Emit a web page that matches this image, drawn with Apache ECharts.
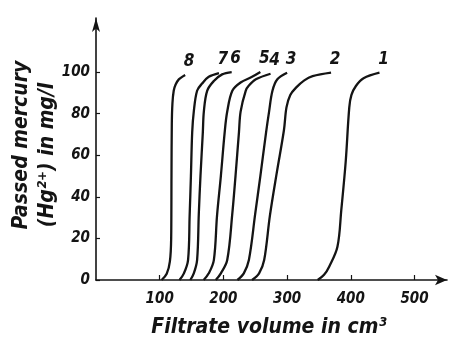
<!DOCTYPE html>
<html><head><meta charset="utf-8">
<script src="https://cdn.jsdelivr.net/npm/echarts@6/dist/echarts.min.js"></script>
<style>html,body{margin:0;padding:0;background:#fff}#c{width:453px;height:341px}</style>
</head><body><div id="c"></div>
<script>
const curveNames = ['1','2','3','4','5','6','7','8'];
const curve1 = [[348,0],[358,2.5],[366,6.4],[379,16],[385,33.5],[392,57],[397.6,83],[401,89],[408,93.3],[420,97],[445,99.7]];
const curve2 = [[245,0],[256,3.2],[264,9.6],[273,31],[284,52],[295,72],[299,83],[305,89],[314,92.5],[327,96],[340,98],[369,99.7]];
const curve3 = [[222,0],[232,3.2],[240,9.6],[250,32],[258,50],[267,71],[271.7,81],[277,91],[284.7,96.5],[300,99.7]];
const curve4 = [[188,0],[196,3.2],[206,9.6],[214,32],[219,50],[224.4,71],[227,81],[235,91],[240,93.5],[251,96.5],[274,99.2]];
const curve5 = [[169,0],[177,3.2],[185,9.6],[190,31],[196,50],[202,71],[206,81],[214,91],[227,95],[245,97.7],[258,100]];
const curve6 = [[148,0],[153.5,3.2],[158.7,9.6],[161.4,32],[164,50],[167.7,71],[169.3,81],[174.5,91],[185,95.7],[198,98.9],[213,100]];
const curve7 = [[131,0],[138,3.2],[144.5,9.6],[147,31],[149,50],[151,71],[153.5,81],[158.7,91],[166.6,94.5],[177,97.7],[193,99.5]];
const curve8 = [[103,0],[111,3],[116,9],[118,20],[118.5,50],[119,75],[120,85],[122,91],[125,94],[130,96.5],[140,98.6]];
const curves = [curve1, curve2, curve3, curve4, curve5, curve6, curve7, curve8];
const xTicks = [100, 200, 300, 400, 500];
const yTicks = [0, 20, 40, 60, 80, 100];
const xTitle = 'Filtrate volume in cm³';
const yTitle1 = 'Passed mercury';
const yTitle2 = '(Hg²⁺) in mg/l';

const INK = '#141414';
const FONT = '"DejaVu Sans Condensed", "DejaVu Sans", sans-serif';

const chart = echarts.init(document.getElementById('c'), null, {renderer: 'canvas'});
const series = curves.map((c, i) => ({
  type: 'line', name: curveNames[i], data: c, smooth: 0.35,
  showSymbol: false, symbol: 'none', silent: true, animation: false,
  lineStyle: {color: INK, width: 2.3}
}));
series.push({
  type: 'scatter', name: 'labels', animation: false, silent: true,
  data: curves.map((c, i) => ({value: c[c.length - 1], name: curveNames[i]})),
  symbolSize: 0.1, itemStyle: {color: INK, opacity: 1},
  label: {show: true, position: 'top', distance: 5, offset: [4, 0], formatter: p => p.name, opacity: 1,
    color: INK, fontFamily: FONT, fontStyle: 'italic', fontWeight: 'bold', fontSize: 17}
});

chart.setOption({
  backgroundColor: '#fff',
  animation: false,
  grid: {left: 96, right: 6, top: 18, bottom: 61},
  xAxis: {
    type: 'value', min: 0, max: 551,
    axisLine: {lineStyle: {color: INK, width: 1.6}, symbol: ['none', 'arrow'], symbolSize: [8, 12]},
    axisTick: {show: true, inside: true, length: 5, customValues: xTicks, lineStyle: {color: INK, width: 1.2}},
    axisLabel: {customValues: xTicks, margin: 12, color: INK, fontFamily: FONT, fontStyle: 'italic', fontWeight: 'bold', fontSize: 15},
    splitLine: {show: false}
  },
  yAxis: {
    type: 'value', min: 0, max: 126,
    axisLine: {show: true, lineStyle: {color: INK, width: 1.6}, symbol: ['none', 'arrow'], symbolSize: [6, 14]},
    axisTick: {show: true, inside: true, length: 4, customValues: yTicks, lineStyle: {color: INK, width: 1.2}},
    axisLabel: {customValues: yTicks, margin: 6, color: INK, fontFamily: FONT, fontStyle: 'italic', fontWeight: 'bold', fontSize: 15},
    splitLine: {show: false}
  },
  graphic: [
    {type: 'text', x: 269, y: 328, silent: true,
      style: {text: xTitle, align: 'center', verticalAlign: 'middle', fill: INK,
        font: 'italic bold 21px ' + FONT}},
    {type: 'text', x: 22, y: 145, rotation: Math.PI / 2, silent: true,
      style: {text: yTitle1, align: 'center', verticalAlign: 'middle', fill: INK,
        font: 'italic bold 21px ' + FONT}},
    {type: 'text', x: 48, y: 155, rotation: Math.PI / 2, silent: true,
      style: {text: yTitle2, align: 'center', verticalAlign: 'middle', fill: INK,
        font: 'italic bold 21px ' + FONT}}
  ],
  series: series
});
</script></body></html>
